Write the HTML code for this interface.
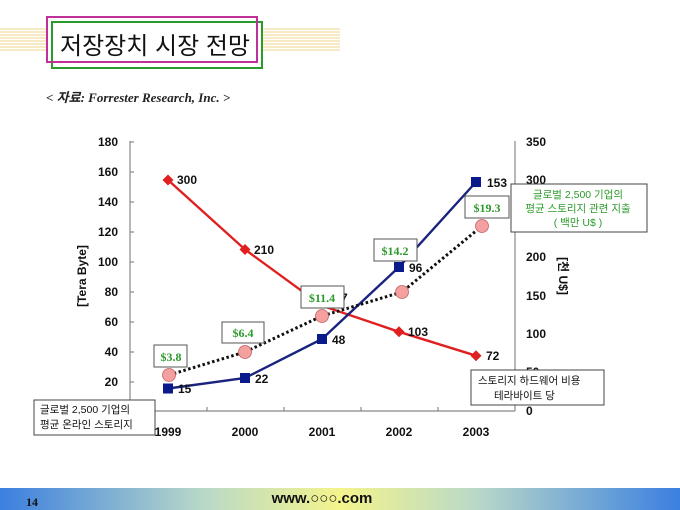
<!DOCTYPE html>
<html><head><meta charset="utf-8"><style>
html,body{margin:0;padding:0;background:#fff;}
svg{display:block;}
</style></head><body>
<svg width="680" height="510" xmlns="http://www.w3.org/2000/svg" font-family="Liberation Sans, 'Noto Sans CJK KR', sans-serif">
<defs>
<linearGradient id="ft" x1="0" x2="1" y1="0" y2="0">
<stop offset="0" stop-color="#3b7fe0"/><stop offset="0.3" stop-color="#b9d9c8"/><stop offset="0.5" stop-color="#f4f48c"/><stop offset="0.7" stop-color="#b9d9c8"/><stop offset="1" stop-color="#3b7fe0"/>
</linearGradient>
</defs>
<g stroke="#f2d48a" stroke-width="1">
<line x1="0" y1="29" x2="47" y2="29"/><line x1="0" y1="32" x2="47" y2="32"/><line x1="0" y1="35" x2="47" y2="35"/><line x1="0" y1="38" x2="47" y2="38"/><line x1="0" y1="41" x2="47" y2="41"/><line x1="0" y1="44" x2="47" y2="44"/><line x1="0" y1="47" x2="47" y2="47"/><line x1="0" y1="50" x2="47" y2="50"/>
<line x1="263" y1="29" x2="340" y2="29"/><line x1="263" y1="32" x2="340" y2="32"/><line x1="263" y1="35" x2="340" y2="35"/><line x1="263" y1="38" x2="340" y2="38"/><line x1="263" y1="41" x2="340" y2="41"/><line x1="263" y1="44" x2="340" y2="44"/><line x1="263" y1="47" x2="340" y2="47"/><line x1="263" y1="50" x2="340" y2="50"/>
</g>
<rect x="52" y="22" width="210" height="46" fill="#fff" stroke="#2a9a2a" stroke-width="2"/>
<rect x="47" y="17" width="210" height="45" fill="none" stroke="#c0309a" stroke-width="2"/>
<text x="60" y="54" font-size="24" fill="#111">저장장치 시장 전망</text>
<text x="46" y="102" font-size="13" fill="#222" font-family="Liberation Serif, 'Noto Sans CJK KR', serif" font-style="italic" font-weight="bold">&lt; 자료: Forrester Research, Inc. &gt;</text>

<g stroke="#888" stroke-width="1.2">
<line x1="130" y1="141" x2="130" y2="411"/>
<line x1="130" y1="411" x2="515" y2="411"/>
<line x1="515" y1="141" x2="515" y2="411"/>
<line x1="130" y1="142" x2="134" y2="142"/><line x1="130" y1="172" x2="134" y2="172"/><line x1="130" y1="202" x2="134" y2="202"/><line x1="130" y1="232" x2="134" y2="232"/><line x1="130" y1="262" x2="134" y2="262"/><line x1="130" y1="292" x2="134" y2="292"/><line x1="130" y1="322" x2="134" y2="322"/><line x1="130" y1="352" x2="134" y2="352"/><line x1="130" y1="382" x2="134" y2="382"/>
<line x1="207" y1="407" x2="207" y2="411"/><line x1="284" y1="407" x2="284" y2="411"/><line x1="361" y1="407" x2="361" y2="411"/><line x1="438" y1="407" x2="438" y2="411"/>
</g>
<g font-size="12" font-weight="bold" fill="#111" text-anchor="end">
<text x="118" y="146">180</text><text x="118" y="176">160</text><text x="118" y="206">140</text><text x="118" y="236">120</text><text x="118" y="266">100</text><text x="118" y="296">80</text><text x="118" y="326">60</text><text x="118" y="356">40</text><text x="118" y="386">20</text>
</g>
<g font-size="12" font-weight="bold" fill="#111">
<text x="526" y="146">350</text><text x="526" y="184">300</text><text x="526" y="223">250</text><text x="526" y="261">200</text><text x="526" y="300">150</text><text x="526" y="338">100</text><text x="526" y="376">50</text><text x="526" y="415">0</text>
</g>
<g font-size="12" font-weight="bold" fill="#111" text-anchor="middle">
<text x="168" y="436">1999</text><text x="245" y="436">2000</text><text x="322" y="436">2001</text><text x="399" y="436">2002</text><text x="476" y="436">2003</text>
</g>
<text transform="translate(86,276) rotate(-90)" font-size="12" font-weight="bold" text-anchor="middle" fill="#111">[Tera Byte]</text>
<text transform="translate(559,276) rotate(90)" font-size="12" font-weight="bold" text-anchor="middle" fill="#111">[천 U$]</text>

<polyline points="168,180 245,249.5 322,305.7 399,331.8 476,355.7" fill="none" stroke="#e02020" stroke-width="2.4"/>
<g fill="#e02020">
<polygon points="168,174.5 173.5,180 168,185.5 162.5,180"/><polygon points="245,244 250.5,249.5 245,255 239.5,249.5"/><polygon points="399,326.3 404.5,331.8 399,337.3 393.5,331.8"/><polygon points="476,350.2 481.5,355.7 476,361.2 470.5,355.7"/>
</g>
<polyline points="168,388.5 245,378 322,339 399,267 476,182" fill="none" stroke="#1a237e" stroke-width="2.4"/>
<g fill="#0a1a8a">
<rect x="163" y="383.5" width="10" height="10"/><rect x="240" y="373" width="10" height="10"/><rect x="317" y="334" width="10" height="10"/><rect x="394" y="262" width="10" height="10"/><rect x="471" y="177" width="10" height="10"/>
</g>
<polyline points="169,375 245,352 322,316 402,292 482,226" fill="none" stroke="#111" stroke-width="3" stroke-dasharray="2.5,2.5"/>
<g fill="#f4a0a0" stroke="#c06060" stroke-width="0.8">
<circle cx="169" cy="375" r="6.5"/><circle cx="245" cy="352" r="6.5"/><circle cx="322" cy="316" r="6.5"/><circle cx="402" cy="292" r="6.5"/><circle cx="482" cy="226" r="6.5"/>
</g>
<g font-size="12" font-weight="bold" fill="#111">
<text x="177" y="184">300</text><text x="254" y="254">210</text><text x="341" y="302">7</text><text x="408" y="336">103</text><text x="486" y="360">72</text>
<text x="178" y="393">15</text><text x="255" y="383">22</text><text x="332" y="344">48</text><text x="409" y="272">96</text><text x="487" y="187">153</text>
</g>
<g fill="#fff" stroke="#555" stroke-width="1">
<rect x="154" y="345" width="33" height="22"/><rect x="222" y="322" width="42" height="21"/><rect x="301" y="286" width="43" height="22"/><rect x="374" y="239" width="43" height="22"/><rect x="465" y="196" width="44" height="22"/>
</g>
<g font-size="12" font-weight="bold" fill="#2a9a2a" font-family="Liberation Serif, serif" text-anchor="middle">
<text x="171" y="361">$3.8</text><text x="243" y="337">$6.4</text><text x="322" y="302">$11.4</text><text x="395" y="255">$14.2</text><text x="487" y="212">$19.3</text>
</g>
<rect x="511" y="184" width="136" height="48" fill="#fff" stroke="#444" stroke-width="1"/>
<g font-size="10.5" fill="#2a9a2a" text-anchor="middle">
<text x="578" y="198">글로벌 2,500 기업의</text><text x="578" y="212">평균 스토리지 관련 지출</text><text x="578" y="226">( 백만 U$ )</text>
</g>
<rect x="471" y="370" width="133" height="35" fill="#fff" stroke="#444" stroke-width="1"/>
<g font-size="10.5" fill="#111"><text x="478" y="384">스토리지 하드웨어 비용</text><text x="494" y="399">테라바이트 당</text></g>
<rect x="34" y="400" width="121" height="35" fill="#fff" stroke="#444" stroke-width="1"/>
<g font-size="10.5" fill="#111"><text x="40" y="413">글로벌 2,500 기업의</text><text x="40" y="428">평균 온라인 스토리지</text></g>

<rect x="0" y="488" width="680" height="22" fill="url(#ft)"/>
<text x="26" y="506" font-size="12" font-weight="bold" font-family="Liberation Serif, serif" fill="#111">14</text>
<text x="322" y="503" font-size="15" font-weight="bold" text-anchor="middle" fill="#111">www.○○○.com</text>
</svg>
</body></html>
